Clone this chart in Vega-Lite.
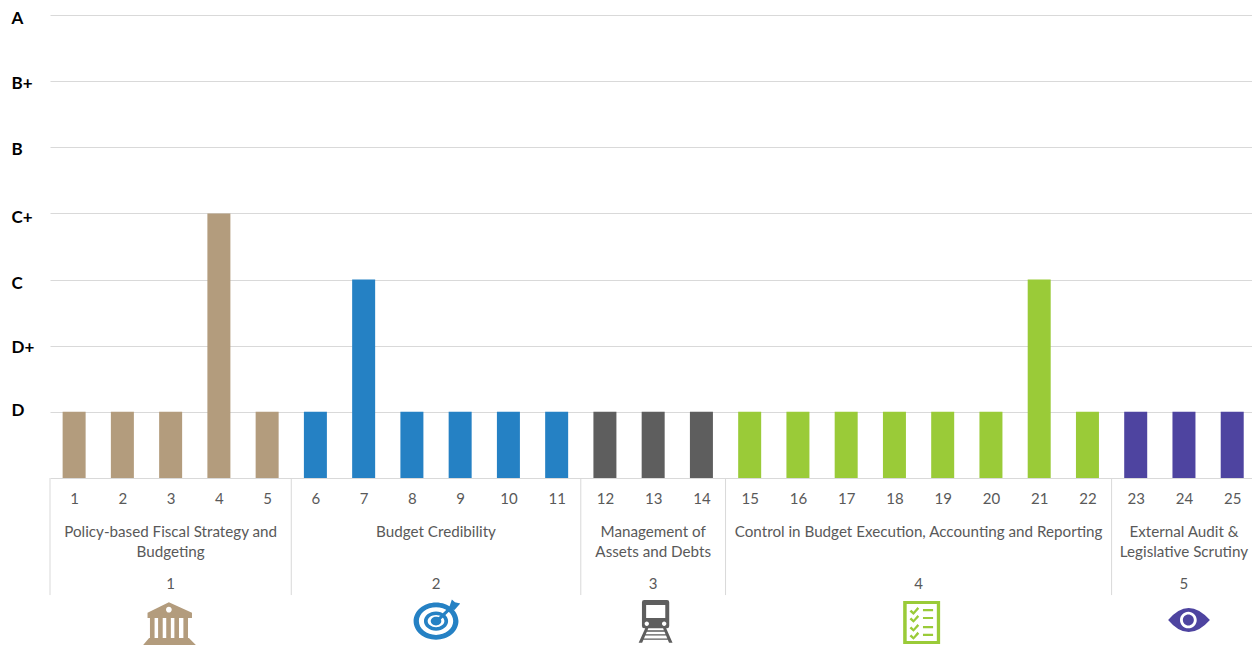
{"$schema":"https://vega.github.io/schema/vega-lite/v6.json","autosize":"none","width":1202,"height":463,"padding":{"left":50,"top":15,"right":0,"bottom":167},"background":"white","view":{"stroke":null},"config":{"view":{"stroke":null},"font":"Lato","text":{"lineBreak":"\n"}},"datasets":{"bars":[{"pi":1,"score":1,"pillar":"Policy"},{"pi":2,"score":1,"pillar":"Policy"},{"pi":3,"score":1,"pillar":"Policy"},{"pi":4,"score":4,"pillar":"Policy"},{"pi":5,"score":1,"pillar":"Policy"},{"pi":6,"score":1,"pillar":"Credibility"},{"pi":7,"score":3,"pillar":"Credibility"},{"pi":8,"score":1,"pillar":"Credibility"},{"pi":9,"score":1,"pillar":"Credibility"},{"pi":10,"score":1,"pillar":"Credibility"},{"pi":11,"score":1,"pillar":"Credibility"},{"pi":12,"score":1,"pillar":"Assets"},{"pi":13,"score":1,"pillar":"Assets"},{"pi":14,"score":1,"pillar":"Assets"},{"pi":15,"score":1,"pillar":"Control"},{"pi":16,"score":1,"pillar":"Control"},{"pi":17,"score":1,"pillar":"Control"},{"pi":18,"score":1,"pillar":"Control"},{"pi":19,"score":1,"pillar":"Control"},{"pi":20,"score":1,"pillar":"Control"},{"pi":21,"score":3,"pillar":"Control"},{"pi":22,"score":1,"pillar":"Control"},{"pi":23,"score":1,"pillar":"Audit"},{"pi":24,"score":1,"pillar":"Audit"},{"pi":25,"score":1,"pillar":"Audit"}],"groups":[{"pillar":"Policy","num":"1","name":"Policy-based Fiscal Strategy and\nBudgeting","start":0.5,"center":3},{"pillar":"Credibility","num":"2","name":"Budget Credibility","start":5.5,"center":8.5},{"pillar":"Assets","num":"3","name":"Management of\nAssets and Debts","start":11.5,"center":13},{"pillar":"Control","num":"4","name":"Control in Budget Execution, Accounting and Reporting","start":14.5,"center":18.5},{"pillar":"Audit","num":"5","name":"External Audit &\nLegislative Scrutiny","start":22.5,"center":24}]},"layer":[{"data":{"name":"bars"},"mark":{"type":"bar","width":23},"encoding":{"x":{"field":"pi","type":"quantitative","scale":{"domain":[0.5,25.41],"nice":false,"zero":false,"padding":0},"axis":{"title":null,"values":[1,2,3,4,5,6,7,8,9,10,11,12,13,14,15,16,17,18,19,20,21,22,23,24,25],"format":"d","domain":false,"ticks":false,"grid":false,"labelFontSize":15,"labelColor":"#595959","labelPadding":13.5,"labelFont":"Lato","labelOverlap":false,"labelFlush":false}},"y":{"field":"score","type":"quantitative","stack":null,"scale":{"domain":[0,7],"nice":false},"axis":{"title":null,"values":[0,1,2,3,4,5,6,7],"domain":false,"ticks":false,"grid":true,"gridColor":"#D9D9D9","gridWidth":1,"labelExpr":"['','D','D+','C','C+','B','B+','A'][datum.value]","labelAlign":"left","labelPadding":39,"labelFontSize":17,"labelFontWeight":"bold","labelColor":"#000000","labelFont":"Lato","labelOffset":{"condition":[{"test":"datum.value==1","value":-1},{"test":"datum.value==3||datum.value==4","value":4},{"test":"datum.value==7","value":3}],"value":2}}},"color":{"field":"pillar","type":"nominal","legend":null,"scale":{"domain":["Policy","Credibility","Assets","Control","Audit"],"range":["#B39C7D","#2581C4","#5E5E5E","#9ACB38","#4E44A0"]}}}},{"data":{"name":"groups"},"mark":{"type":"rule","color":"#D9D9D9","strokeWidth":1},"encoding":{"x":{"field":"start","type":"quantitative"},"y":{"datum":0},"y2":{"datum":-1.77}}},{"data":{"name":"groups"},"mark":{"type":"text","baseline":"top","align":"center","fontSize":15.2,"color":"#595959","lineHeight":20,"font":"Lato"},"encoding":{"x":{"field":"center","type":"quantitative"},"y":{"datum":-0.71},"text":{"field":"name"}}},{"data":{"name":"groups"},"mark":{"type":"text","baseline":"middle","align":"center","fontSize":15,"color":"#595959","font":"Lato"},"encoding":{"x":{"field":"center","type":"quantitative"},"y":{"datum":-1.6},"text":{"field":"num"}}},{"data":{"name":"groups"},"mark":{"type":"point","filled":true,"size":1936,"opacity":1,"clip":false},"encoding":{"x":{"field":"center","type":"quantitative"},"y":{"datum":-2.17},"shape":{"field":"pillar","type":"nominal","legend":null,"scale":{"domain":["Policy","Credibility","Assets","Control","Audit"],"range":["M-0.08 -0.88 L0.97 -0.4 V-0.16 H-1.05 V-0.4 Z M0.05 -0.54 A0.13 0.13 0 1 0 -0.21 -0.54 A0.13 0.13 0 1 0 0.05 -0.54 Z M-0.94 -0.16 H-0.73 V0.75 H-0.94 Z M-0.57 -0.16 H-0.36 V0.75 H-0.57 Z M-0.2 -0.16 H0.01 V0.75 H-0.2 Z M0.17 -0.16 H0.38 V0.75 H0.17 Z M0.58 -0.16 H0.79 V0.75 H0.58 Z M-0.98 0.75 H0.83 L1.16 1.08 H-1.26 Z","M1.02 -0.02 A1.02 0.85 0 1 1 -1.02 -0.02 A1.02 0.85 0 1 1 1.02 -0.02 Z M0.78 -0.02 A0.78 0.63 0 1 0 -0.78 -0.02 A0.78 0.63 0 1 0 0.78 -0.02 Z M0.55 -0.02 A0.55 0.44 0 1 1 -0.55 -0.02 A0.55 0.44 0 1 1 0.55 -0.02 Z M0.38 -0.02 A0.38 0.28 0 1 0 -0.38 -0.02 A0.38 0.28 0 1 0 0.38 -0.02 Z M0.24 -0.02 A0.24 0.2 0 1 1 -0.24 -0.02 A0.24 0.2 0 1 1 0.24 -0.02 Z M0 -0.08 L0.66 -0.72 L0.76 -0.62 L0.1 0.02 Z M0.6 -0.65 L0.72 -1 L0.86 -0.88 L1.1 -0.82 L0.84 -0.52 Z","M-0.41 -0.98 H0.63 Q0.73 -0.98 0.73 -0.88 V0.2 Q0.73 0.3 0.63 0.3 H-0.41 Q-0.51 0.3 -0.51 0.2 V-0.88 Q-0.51 -0.98 -0.41 -0.98 Z M-0.32 -0.75 V-0.16 H0.55 V-0.75 Z M-0.19 0.1 A0.1 0.1 0 1 0 -0.39 0.1 A0.1 0.1 0 1 0 -0.19 0.1 Z M0.6 0.1 A0.1 0.1 0 1 0 0.4 0.1 A0.1 0.1 0 1 0 0.6 0.1 Z M-0.36 0.3 H-0.22 L-0.5 0.97 H-0.66 Z M0.45 0.3 H0.59 L0.88 0.97 H0.72 Z M-0.3 0.4 H0.52 V0.46 H-0.3 Z M-0.36 0.58 H0.6 V0.64 H-0.36 Z M-0.44 0.77 H0.68 V0.83 H-0.44 Z","M-0.7 -0.93 H0.98 V1.02 H-0.7 Z M-0.54 -0.8 V0.89 H0.83 V-0.8 Z M-0.33 -0.54 L-0.23 -0.44 L-0.05 -0.66 L0.03 -0.58 L-0.23 -0.3 L-0.41 -0.46 Z M0.2 -0.57 H0.66 V-0.47 H0.2 Z M-0.33 -0.18 L-0.23 -0.08 L-0.05 -0.3 L0.03 -0.22 L-0.23 0.06 L-0.41 -0.1 Z M0.2 -0.21 H0.66 V-0.11 H0.2 Z M-0.33 0.23 L-0.23 0.33 L-0.05 0.11 L0.03 0.19 L-0.23 0.47 L-0.41 0.31 Z M0.2 0.2 H0.66 V0.3 H0.2 Z M-0.33 0.59 L-0.23 0.69 L-0.05 0.47 L0.03 0.55 L-0.23 0.83 L-0.41 0.67 Z M0.2 0.56 H0.66 V0.66 H0.2 Z","M-0.72 -0.07 Q0.2 -1.17 1.18 -0.07 Q0.2 1.03 -0.72 -0.07 Z M0.58 -0.07 A0.38 0.38 0 1 0 -0.18 -0.07 A0.38 0.38 0 1 0 0.58 -0.07 Z M0.45 -0.07 A0.25 0.25 0 1 1 -0.05 -0.07 A0.25 0.25 0 1 1 0.45 -0.07 Z"]}},"color":{"field":"pillar","type":"nominal","legend":null}}}]}
